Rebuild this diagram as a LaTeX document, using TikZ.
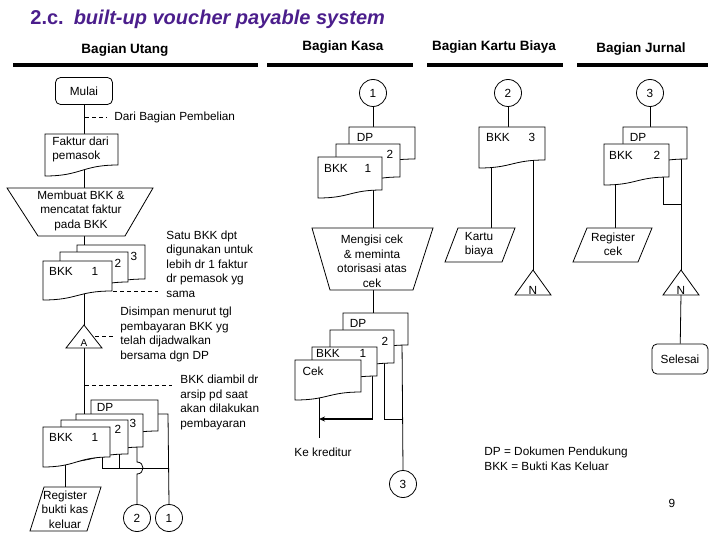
\documentclass[tikz,border=0pt]{standalone}
\usepackage{fontspec}
\setmainfont{Liberation Sans}
\usetikzlibrary{arrows.meta}
\definecolor{titlec}{RGB}{75,30,140}
\newcommand{\fdoc}[5]{\path[shp] (#1,#2) -- (#3,#2) -- (#3,#4) .. controls ({(#1+#3)/2},#4) and ({(#1+#3)/2},#5) .. (#1,#5) -- cycle;}
\begin{document}
\begin{tikzpicture}[x=1pt,y=-1pt,line width=0.8pt,
  shp/.style={draw=black,fill=white},
  tx/.style={font=\fontsize{11.8}{14.5}\selectfont,inner sep=0pt,align=center},
  txl/.style={tx,align=left,anchor=west},
  hdr/.style={font=\fontsize{13.5}{16}\selectfont\bfseries,inner sep=0pt},
  lane/.style={line width=3.5pt},
  dsh/.style={dash pattern=on 4pt off 3pt},
  conn/.style={draw,circle,fill=white,minimum size=27pt,inner sep=0pt,font=\fontsize{11.8}{14}\selectfont},
  term/.style={draw,fill=white,rounded corners=5pt,inner sep=0pt,font=\fontsize{11.8}{14}\selectfont}]
\useasboundingbox (0,0) rectangle (720,540);

% title and lanes
\node[anchor=base west,inner sep=0pt,font=\fontsize{20}{24}\selectfont\bfseries,text=titlec] (title) at (30,25) {2.c.\hspace{10pt}\textit{built-up voucher payable system}};
\node[hdr] (hU) at (125,50) {Bagian Utang};
\node[hdr] (hK) at (343,47) {Bagian Kasa};
\node[hdr] (hB) at (494,47) {Bagian Kartu Biaya};
\node[hdr] (hJ) at (641,49) {Bagian Jurnal};
\draw[lane] (13,65) -- (258,65);
\draw[lane] (267,65) -- (413,65);
\draw[lane] (427,65) -- (563,65);
\draw[lane] (577,65) -- (708,65);

% terminals and connectors (circles)
\node[term,minimum width=57pt,minimum height=27pt] (mulai) at (84,91) {Mulai};
\node[term,minimum width=56pt,minimum height=30pt] (selesai) at (680,359) {Selesai};
\node[conn] (c1) at (169,518) {1};
\node[conn] (c2) at (137,518) {2};
\node[conn] (cK1) at (373,93) {1};
\node[conn] (cK2) at (508,93) {2};
\node[conn] (cK3) at (650,93) {3};
\node[conn] (c3K) at (403,484) {3};

% ---------- flow lines (under the shapes)
% Utang
\draw (mulai) -- (84,140);
\draw (84,168) -- (84,192);
\draw (84,232) -- (84,250);
\draw (84,290) -- (84,327);
\draw (84,346) -- (84,418);
\draw (65,455) -- (65,490);
\draw (102,450) -- (102,468) -- (168,468);
\draw (119,448) -- (119,468);
\draw (150,414) -- (168,414) -- (c1.north);
\draw (137,440) -- (137,462) .. controls (145,462) and (145,474) .. (137,474) -- (c2.north);
% Kasa
\draw (cK1) -- (373,132);
\draw (373,185) -- (373,232);
\draw (373,286) -- (373,318);
\coordinate (kkEnd) at (319,438);
\draw (319,392) -- (kkEnd);
\coordinate (arrTip) at (319,419);
\draw (372,370) -- (372,419);
\draw[line width=1.8pt,-{Stealth[length=6pt,width=5pt]}] (372.9,419) -- (arrTip);
\draw (384,355) -- (384,419) -- (402,419);
\draw (402,340) -- (c3K.north);
% Kartu biaya
\draw (cK2) -- (508,132);
\draw (491,160) -- (491,232);
\draw (533,155) -- (533,273);
% Jurnal
\draw (cK3) -- (650,132);
\draw (615,178) -- (615,232);
\draw (663,170) -- (663,204) -- (681,204);
\draw (681,150) -- (681,273);
\draw (selesai) -- (681,294);

% ---------- shapes
% Utang
\fdoc{45}{134}{118}{165}{176}
\path[shp] (7,188) -- (153,188) -- (125,236) -- (38,236) -- cycle;
\fdoc{77}{245}{145}{279}{287}
\fdoc{60}{252}{128}{282}{292}
\fdoc{43}{261}{112}{291}{300}
\path[shp] (84,325) -- (102,348) -- (66,348) -- cycle;
\fdoc{91}{400}{158}{431}{439}
\fdoc{76}{414}{143}{447}{455}
\fdoc{61}{420}{128}{454}{462}
\fdoc{43}{427}{110}{457}{467}
\path[shp] (44,487) -- (101,487) -- (87,531) -- (30,531) -- cycle;
% Kasa
\fdoc{349}{127}{415}{159}{166}
\fdoc{336}{144}{400}{177}{185}
\fdoc{318}{157}{382}{190}{198}
\path[shp] (312,228) -- (433,228) -- (413,290) -- (330,290) -- cycle;
\fdoc{343}{313}{408}{345}{352}
\fdoc{330}{330}{394}{363}{370}
\fdoc{312}{347}{377}{376}{383}
\fdoc{295}{360}{361}{392}{400}
% Kartu biaya
\fdoc{479}{127}{545}{160}{168}
\path[shp] (458,228) -- (515,228) -- (502,262) -- (445,262) -- cycle;
\path[shp] (533,270) -- (551,295) -- (515,295) -- cycle;
% Jurnal
\fdoc{623}{127}{687}{159}{166}
\fdoc{604}{144}{669}{177}{185}
\path[shp] (587,228) -- (652,228) -- (638,262) -- (573,262) -- cycle;
\path[shp] (681,270) -- (699,295) -- (663,295) -- cycle;

% ---------- texts
% Utang
\node[txl] (dari) at (114,117) {Dari Bagian Pembelian};
\coordinate (dariPt) at (85,117);
\draw[dsh] (dariPt) -- ([xshift=-7pt]dari.west);
\node[txl] (faktur) at (52,149.5) {Faktur dari\\pemasok};
\node[tx] (membuat) at (81,210.5) {Membuat BKK \&\\mencatat faktur\\pada BKK};
\node[tx] (aBKK) at (61,271) {BKK};
\node[tx] (a1) at (95,271) {1};
\node[tx] (a2) at (118,263) {2};
\node[tx] (a3) at (134,256) {3};
\node[txl] (satu) at (166,264) {Satu BKK dpt\\digunakan untuk\\lebih dr 1 faktur\\dr pemasok yg\\sama};
\coordinate (satuPt) at (113,291);
\coordinate (satuEnd) at (158,291);
\draw[dsh] (satuPt) -- (satuEnd);
\node[tx,font=\fontsize{10}{12}\selectfont] (fileA) at (84,343) {A};
\node[txl] (disimpan) at (120,334.5) {Disimpan menurut tgl\\pembayaran BKK yg\\telah dijadwalkan\\bersama dgn DP};
\coordinate (disPt) at (95,336);
\coordinate (disEnd) at (113,336);
\draw[dsh] (disPt) -- (disEnd);
\node[txl] (diambil) at (180,402.5) {BKK diambil dr\\arsip pd saat\\akan dilakukan\\pembayaran};
\coordinate (ambPt) at (85,385);
\coordinate (ambEnd) at (172,385);
\draw[dsh] (ambPt) -- (ambEnd);
\node[tx] (bDP) at (105,407) {DP};
\node[tx] (bBKK) at (61,437) {BKK};
\node[tx] (b1) at (95,437) {1};
\node[tx] (b2) at (118,429) {2};
\node[tx] (b3) at (133,423) {3};
\node[tx] (regbkk) at (65,509.5) {Register\\bukti kas\\keluar};
% Kasa
\node[tx] (kDP) at (365,137) {DP};
\node[tx] (k2) at (390,154) {2};
\node[tx] (kBKK) at (336,168) {BKK};
\node[tx] (k1) at (368,168) {1};
\node[tx] (mengisi) at (372,261.5) {Mengisi cek\\\& meminta\\otorisasi atas\\cek};
\node[tx] (mDP) at (358,323) {DP};
\node[tx] (m2) at (385,341) {2};
\node[tx] (mBKK) at (328,353) {BKK};
\node[tx] (m1) at (363,353) {1};
\node[tx] (mCek) at (313,371) {Cek};
\node[tx] (kredit) at (323,452) {Ke kreditur};
% Kartu biaya
\node[tx] (bkBKK) at (498,137) {BKK};
\node[tx] (bk3) at (532,137) {3};
\node[tx] (kartu) at (479,244.5) {Kartu\\biaya};
\node[tx] (n1) at (533,290) {N};
% Jurnal
\node[tx] (jDP) at (638,137) {DP};
\node[tx] (jBKK) at (621,155) {BKK};
\node[tx] (j2) at (657,155) {2};
\node[tx] (regcek) at (613,244.5) {Register\\cek};
\node[tx] (n2) at (681,290) {N};
% footnote
\node[txl] (fn) at (484,459) {DP = Dokumen Pendukung\\BKK = Bukti Kas Keluar};
\node[tx] (page) at (672,503) {9};
\end{tikzpicture}
\end{document}
